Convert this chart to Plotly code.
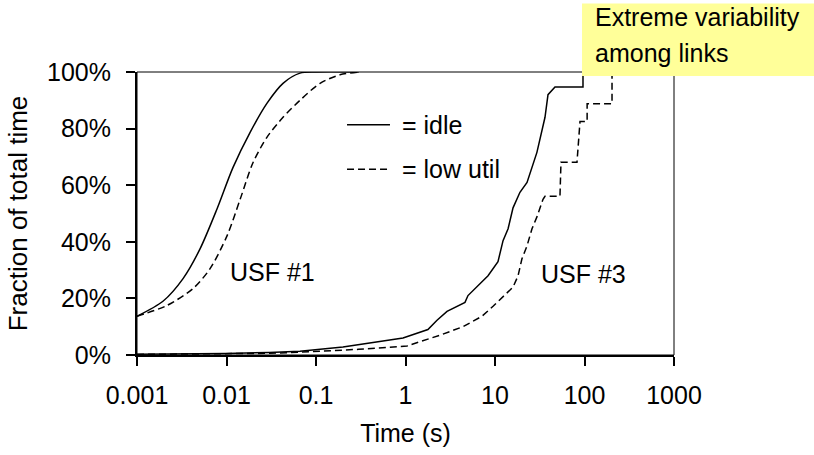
import plotly.graph_objects as go

# ---- data (time in seconds, fraction of total time in %) ----
usf1_idle_t = [0.001, 0.00195, 0.00327, 0.00506, 0.00783, 0.0118, 0.0183, 0.0284, 0.0428, 0.0662, 0.1, 0.3]
usf1_idle_p = [13.7, 19.0, 27.0, 37.5, 51.6, 66.2, 78.6, 89.0, 96.0, 99.6, 100, 100]

usf1_low_t = [0.001, 0.00216, 0.00423, 0.00655, 0.0101, 0.0142, 0.0198, 0.0284, 0.0428, 0.0662, 0.111, 0.185, 0.31]
usf1_low_p = [13.7, 17.5, 23.5, 30.5, 42.0, 55.0, 68.0, 77.0, 84.0, 90.0, 96.0, 99.0, 100]

usf3_idle_t = [0.001, 0.01, 0.03, 0.0662, 0.2, 0.481, 0.938, 1.78, 2.25, 2.91, 4.62, 4.99, 6.30, 8.36, 10.8,
               12.3, 14.0, 15.9, 19.0, 22.8, 29.4, 31.8, 36.2, 39.1, 46.8, 96.2, 96.2, 200]
usf3_idle_p = [0.3, 0.5, 0.9, 1.3, 2.8, 4.6, 6.0, 9.0, 12.3, 15.4, 18.6, 21.0, 24.0, 28.0, 33.0,
               40.4, 44.6, 52.0, 57.5, 61.0, 71.6, 76.0, 84.0, 92.0, 94.7, 94.7, 100, 100]

usf3_low_t = [0.001, 0.01, 0.03, 0.0662, 0.3, 1.04, 2.43, 4.39, 7.16, 9.51, 12.3, 15.9, 18.1, 20.0, 22.8, 25.9,
              29.4, 34.4, 36.2, 53.2, 54.6, 82.4, 89.1, 107, 107, 203, 203]
usf3_low_p = [0.2, 0.3, 0.6, 1.0, 2.0, 3.2, 7.0, 10.0, 13.7, 17.2, 20.7, 24.0, 28.0, 34.0, 38.6, 44.6,
              48.8, 55.0, 56.1, 56.1, 68.1, 68.1, 82.5, 82.5, 88.8, 88.8, 100]

x_tickvals = [0.001, 0.01, 0.1, 1, 10, 100, 1000]
x_ticktext = ["0.001", "0.01", "0.1", "1", "10", "100", "1000"]
y_tickvals = [0, 20, 40, 60, 80, 100]
y_ticktext = ["0%", "20%", "40%", "60%", "80%", "100%"]

FONT = "Liberation Sans, Arial, sans-serif"
DASH = "7px,4px"

fig = go.Figure()
fig.add_trace(go.Scatter(x=usf1_idle_t, y=usf1_idle_p, mode="lines", line=dict(color="black", width=1.5, shape="spline", smoothing=0.8), showlegend=False))
fig.add_trace(go.Scatter(x=usf1_low_t, y=usf1_low_p, mode="lines", line=dict(color="black", width=1.5, shape="spline", smoothing=0.8, dash=DASH), showlegend=False))
fig.add_trace(go.Scatter(x=usf3_idle_t, y=usf3_idle_p, mode="lines", line=dict(color="black", width=1.5), showlegend=False))
fig.add_trace(go.Scatter(x=usf3_low_t, y=usf3_low_p, mode="lines", line=dict(color="black", width=1.5, dash=DASH), showlegend=False))

fig.update_layout(
    width=814, height=455,
    margin=dict(l=137, r=140, t=72, b=98),
    paper_bgcolor="white", plot_bgcolor="white",
    font=dict(family=FONT, size=25, color="black"),
    xaxis=dict(type="log", range=[-3, 3], tickvals=x_tickvals, ticktext=x_ticktext,
               ticks="outside", ticklen=9, tickwidth=2, tickcolor="black",
               showline=True, linewidth=2, linecolor="black", showgrid=False, zeroline=False,
               ticklabelstandoff=8,
               title=dict(text="Time (s)", font=dict(size=25), standoff=16)),
    yaxis=dict(range=[0, 100], tickvals=y_tickvals, ticktext=y_ticktext,
               ticks="outside", ticklen=9, tickwidth=2, tickcolor="black",
               showline=True, linewidth=2, linecolor="black", showgrid=False, zeroline=False,
               ticklabelstandoff=10,
               title=dict(text="Fraction of total time", font=dict(size=26), standoff=12)),
    shapes=[
        dict(type="rect", xref="paper", yref="paper", x0=0, x1=1, y0=0, y1=1,
             line=dict(color="black", width=1), layer="above"),
        dict(type="line", xref="paper", yref="paper", x0=0.3911, x1=0.4711, y0=0.8140, y1=0.8140,
             line=dict(color="black", width=1.5)),
        dict(type="line", xref="paper", yref="paper", x0=0.3911, x1=0.4711, y0=0.6561, y1=0.6561,
             line=dict(color="black", width=1.5, dash=DASH)),
        dict(type="rect", xref="paper", yref="paper", x0=0.8287, x1=1.27, y0=0.986, y1=1.242,
             line=dict(width=0), fillcolor="#FFFF99", layer="above"),
    ],
    annotations=[
        dict(text="= idle", xref="paper", yref="paper", x=0.4898, y=0.8140, xanchor="left", yanchor="middle", showarrow=False),
        dict(text="= low util", xref="paper", yref="paper", x=0.4898, y=0.6561, xanchor="left", yanchor="middle", showarrow=False),
        dict(text="USF #1", x=-1.486, y=29.5, xref="x", yref="y", showarrow=False),
        dict(text="USF #3", x=1.994, y=28.8, xref="x", yref="y", showarrow=False),
        dict(text="Extreme variability", xref="paper", yref="paper", x=(593 - 137) / 537, y=(357 - 16.5) / 285,
             xanchor="left", yanchor="middle", showarrow=False),
        dict(text="among links", xref="paper", yref="paper", x=(593 - 137) / 537, y=(357 - 52.5) / 285,
             xanchor="left", yanchor="middle", showarrow=False),
    ],
)

fig.write_html("out.html")
